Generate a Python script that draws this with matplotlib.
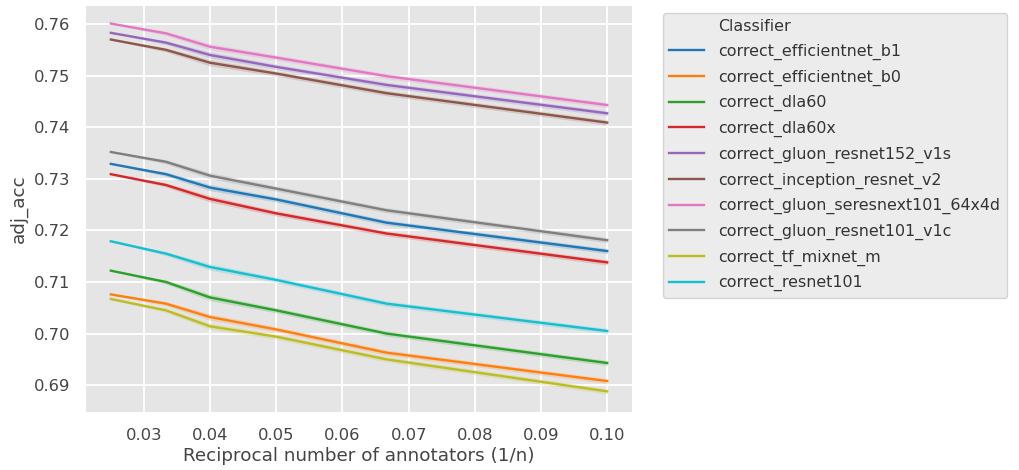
import matplotlib
matplotlib.use('Agg')
import matplotlib.pyplot as plt
from matplotlib.lines import Line2D
import numpy as np

# reciprocal of number of annotators: n = 40, 30, 25, 20, 15, 10
recip_n = [1 / 40, 1 / 30, 1 / 25, 1 / 20, 1 / 15, 1 / 10]

classifiers = [
    "correct_efficientnet_b1",
    "correct_efficientnet_b0",
    "correct_dla60",
    "correct_dla60x",
    "correct_gluon_resnet152_v1s",
    "correct_inception_resnet_v2",
    "correct_gluon_seresnext101_64x4d",
    "correct_gluon_resnet101_v1c",
    "correct_tf_mixnet_m",
    "correct_resnet101",
]

adj_acc = {
    "correct_efficientnet_b1": [0.7329, 0.7309, 0.7283, 0.7260, 0.7215, 0.7160],
    "correct_efficientnet_b0": [0.7076, 0.7058, 0.7032, 0.7008, 0.6963, 0.6908],
    "correct_dla60": [0.7122, 0.7100, 0.7070, 0.7045, 0.7000, 0.6943],
    "correct_dla60x": [0.7309, 0.7288, 0.7261, 0.7233, 0.7194, 0.7138],
    "correct_gluon_resnet152_v1s": [0.7583, 0.7564, 0.7540, 0.7517, 0.7482, 0.7427],
    "correct_inception_resnet_v2": [0.7570, 0.7550, 0.7525, 0.7504, 0.7466, 0.7409],
    "correct_gluon_seresnext101_64x4d": [0.7601, 0.7582, 0.7556, 0.7535, 0.7499, 0.7443],
    "correct_gluon_resnet101_v1c": [0.7352, 0.7333, 0.7306, 0.7281, 0.7239, 0.7181],
    "correct_tf_mixnet_m": [0.7067, 0.7045, 0.7014, 0.6994, 0.6950, 0.6888],
    "correct_resnet101": [0.7179, 0.7155, 0.7129, 0.7104, 0.7058, 0.7005],
}

# half width of the confidence band at each x
ci_half = [0.0001, 0.0004, 0.0006, 0.0005, 0.0005, 0.0005]

colors = plt.get_cmap('tab10').colors

plt.rcParams['font.family'] = 'DejaVu Sans'

fig = plt.figure(figsize=(10.19, 4.70), dpi=100)
ax = fig.add_axes([86 / 1019, 1 - 412 / 470, (632 - 86) / 1019, (412 - 6) / 470])
ax.set_facecolor('#e5e5e5')

handles = [Line2D([], [], color='none')]
labels = ["Classifier"]
x = np.array(recip_n)
for i, name in enumerate(classifiers):
    y = np.array(adj_acc[name])
    ci = np.array(ci_half)
    ax.fill_between(x, y - ci, y + ci, color=colors[i], alpha=0.2, linewidth=0)
    line, = ax.plot(x, y, color=colors[i], linewidth=1.7)
    handles.append(line)
    labels.append(name)

ax.set_xlim(0.02125, 0.10375)
ax.set_ylim(0.6848, 0.7635)
ax.set_xticks([0.03, 0.04, 0.05, 0.06, 0.07, 0.08, 0.09, 0.10])
ax.set_xticklabels(["0.03", "0.04", "0.05", "0.06", "0.07", "0.08", "0.09", "0.10"])
ax.set_yticks([0.69, 0.70, 0.71, 0.72, 0.73, 0.74, 0.75, 0.76])
ax.set_yticklabels(["0.69", "0.70", "0.71", "0.72", "0.73", "0.74", "0.75", "0.76"])
ax.grid(True, color='white', linewidth=1.3)
ax.set_axisbelow(True)
for s in ax.spines.values():
    s.set_visible(False)
ax.tick_params(length=0, pad=11.5, colors='#444444', labelsize=11.8)
ax.set_xlabel("Reciprocal number of annotators (1/n)", color='#444444',
              fontsize=13.2, labelpad=3)
ax.set_ylabel("adj_acc", color='#444444', fontsize=13.2, labelpad=4)

leg = fig.legend(handles, labels, loc='upper left',
                 bbox_to_anchor=(663 / 1019, 1 - 13 / 470),
                 borderaxespad=0, frameon=True, fontsize=11.4,
                 handlelength=2.2, handletextpad=0.9, borderpad=0.4,
                 labelspacing=0.6)
leg.get_frame().set_facecolor('#e8e8e8')
leg.get_frame().set_edgecolor('#cccccc')
for t in leg.get_texts():
    t.set_color('#333333')

fig.savefig('out.png', dpi=100)
